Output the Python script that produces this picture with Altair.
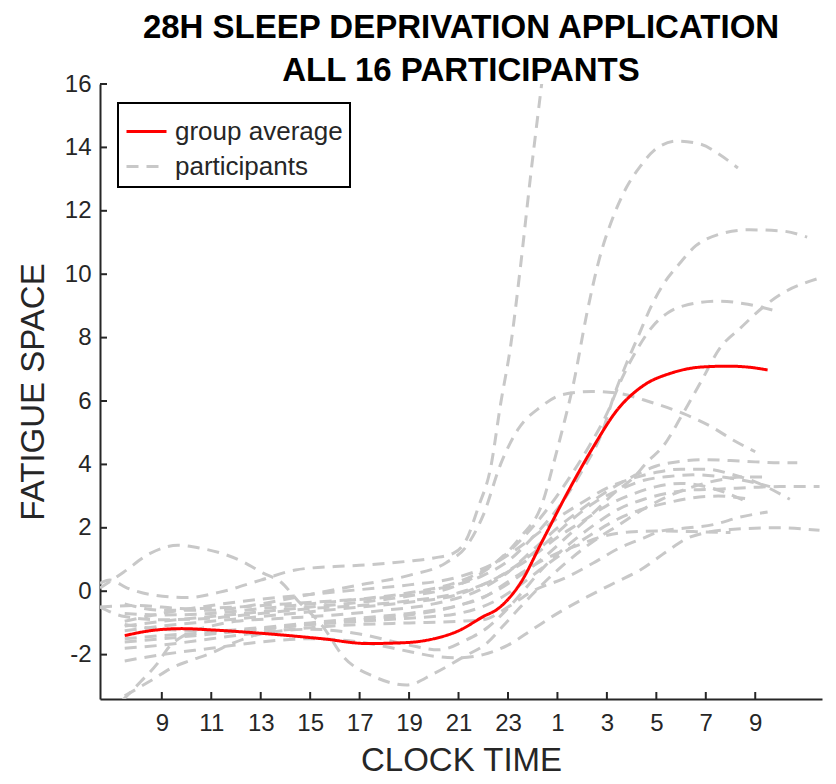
import altair as alt
import pandas as pd

# ---- data (clock time as continuous hours; values > 24 are next day) ----
avg_t = [7.5, 8.5, 9.8, 11, 12.9, 15.5, 17.3, 18.9, 20, 21, 22, 22.6, 23.5, 24.4, 25.4, 26.45, 27.4, 28.5, 29.6, 30.8, 31.9, 32.7, 33.5]
avg_v = [-1.4, -1.25, -1.18, -1.22, -1.32, -1.5, -1.65, -1.62, -1.5, -1.25, -0.8, -0.55, 0.25, 1.6, 3.1, 4.55, 5.7, 6.5, 6.88, 7.07, 7.1, 7.07, 6.98]

p01_t = [6.5, 6.9, 7.6, 8.5, 10, 11.5, 13, 14.4, 16, 17.3, 19, 20, 20.8, 21.3, 21.8, 22.3, 22.7, 23.1, 23.5, 23.9, 24.3, 24.6]
p01_v = [0.25, 0.35, 0.1, -0.1, -0.2, 0.0, 0.35, 0.67, 0.78, 0.83, 0.95, 1.05, 1.2, 1.6, 2.65, 3.9, 5.9, 7.7, 10.2, 13.0, 15.6, 17.5]
p02_t = [7.5, 9, 11, 13, 15, 17, 19, 21, 22.5, 23.5, 24.4, 24.85, 25.2, 25.65, 26.2, 26.7, 27.3, 27.8, 28.35, 28.9, 29.85, 30.8, 31.6, 32.3]
p02_v = [-1.1, -0.95, -0.8, -0.65, -0.5, -0.35, -0.15, 0.2, 0.9, 1.7, 2.8, 4.05, 5.1, 6.55, 8.8, 10.5, 11.9, 12.75, 13.4, 13.9, 14.2, 14.1, 13.75, 13.35]
p03_t = [6.5, 8, 10, 12, 14, 16, 18, 20, 22, 23, 24, 25, 26, 26.8, 27.3, 27.8, 28.3, 28.8, 29.3, 29.9, 30.6, 31.5, 32.7, 34.0, 35.1]
p03_v = [-0.5, -0.45, -0.55, -0.5, -0.4, -0.3, -0.2, 0.05, 0.5, 0.95, 1.7, 2.6, 3.8, 5.0, 6.2, 7.2, 8.1, 9.0, 9.7, 10.3, 10.9, 11.25, 11.4, 11.37, 11.17]
p04_t = [7.5, 9, 11, 13, 15, 17, 19, 21, 22.5, 23.5, 24.5, 25.5, 26.3, 27, 27.6, 28.2, 28.9, 29.5, 30.1, 31.5, 32.7, 33.7]
p04_v = [-0.7, -0.75, -0.7, -0.55, -0.4, -0.25, -0.05, 0.3, 0.9, 1.6, 2.5, 3.6, 4.6, 5.6, 6.7, 7.6, 8.4, 8.8, 9.0, 9.15, 9.05, 8.87]
p05_t = [7.5, 9, 11, 13, 15, 17, 19, 21, 22.5, 23.5, 24.5, 25.5, 26.5, 27.3, 28.1, 28.6, 29.3, 30.0, 30.8, 31.6, 32.4, 33.3, 34.1, 35.1, 35.7]
p05_v = [-1.6, -1.5, -1.35, -1.2, -1.05, -0.9, -0.75, -0.45, 0.0, 0.5, 1.1, 1.8, 2.5, 3.1, 3.6, 4.05, 4.6, 5.5, 6.6, 7.7, 8.3, 8.95, 9.4, 9.75, 9.9]
p06_t = [7.5, 9, 11, 13, 15, 17, 19, 20.5, 21.3, 22.0, 22.7, 23.4, 24.3, 25.2, 26.4, 27.4, 28.75, 30.1, 31.2, 32.1, 33.0]
p06_v = [-0.4, -0.6, -0.6, -0.4, -0.1, 0.2, 0.5, 0.9, 1.4, 2.4, 4.0, 5.1, 5.8, 6.2, 6.3, 6.25, 5.97, 5.6, 5.2, 4.77, 4.4]
p07_t = [7.4, 8.15, 8.8, 9.3, 10, 11, 12, 14, 16, 18, 20, 22, 23, 24, 25, 26, 27, 28, 29, 30, 31, 32, 33, 34, 34.7]
p07_v = [-3.45, -2.85, -2.3, -1.75, -1.35, -1.1, -0.95, -0.85, -0.75, -0.6, -0.4, 0.1, 0.6, 1.3, 2.0, 2.6, 3.15, 3.6, 3.95, 4.1, 4.15, 4.12, 4.08, 4.05, 4.05]
p08_t = [7.5, 9, 11, 13, 15, 17, 19, 21, 22.5, 24, 25, 26, 27, 28, 29, 30, 31, 32, 33, 34.4]
p08_v = [-0.95, -0.7, -0.45, -0.25, -0.1, 0.05, 0.2, 0.45, 0.9, 1.7, 2.3, 2.8, 3.25, 3.55, 3.75, 3.85, 3.85, 3.7, 3.45, 2.9]
p09_t = [7.5, 8.6, 9.45, 10.1, 11, 11.9, 13, 15, 17, 19, 20.2, 21.3, 22.2, 22.8, 23.5, 24.5, 25.5, 26.5, 27.5, 28.5, 29.5, 30.5, 31.5, 33, 34, 35.6]
p09_v = [-3.3, -2.8, -2.4, -2.2, -1.95, -1.63, -1.35, -1.2, -1.35, -1.7, -1.85, -1.54, -1.13, -0.7, -0.1, 0.8, 1.5, 2.1, 2.6, 2.9, 3.1, 3.2, 3.22, 3.28, 3.3, 3.3]
p10_t = [7.5, 9, 11, 13, 15, 17, 19, 21, 22.5, 24, 25, 26, 27, 28, 29, 30, 31, 32, 32.7]
p10_v = [-1.25, -1.1, -0.95, -0.8, -0.65, -0.5, -0.35, -0.1, 0.4, 1.1, 1.7, 2.2, 2.7, 3.05, 3.3, 3.4, 3.3, 3.05, 2.8]
p11_t = [7.5, 9, 11, 13, 15, 17, 19, 20, 21, 22, 23, 24, 25, 26.2, 27.3, 28.35, 29.4, 30.2, 31, 32, 33.9, 35.6]
p11_v = [-2.2, -2.0, -1.8, -1.6, -1.5, -1.6, -1.9, -2.05, -2.1, -2.0, -1.7, -1.2, -0.7, -0.18, 0.26, 0.67, 1.24, 1.65, 1.85, 1.95, 2.0, 1.92]
p12_t = [7.5, 9, 11, 13, 15, 17, 19, 21, 22, 23, 24, 25.4, 26.45, 27.5, 28.5, 29.2, 30.3, 31.3, 32.4, 33.5]
p12_v = [-1.8, -1.7, -1.5, -1.3, -1.15, -1.05, -1.0, -0.95, -0.9, -0.5, 0.0, 0.45, 0.89, 1.36, 1.68, 1.9, 2.0, 2.1, 2.34, 2.5]
p13_t = [7.5, 9, 11, 13, 15, 17, 19, 21, 22, 23, 24, 25, 26, 26.7, 27.9, 29, 30.5, 32]
p13_v = [-1.05, -1.2, -1.25, -1.15, -1.0, -0.85, -0.7, -0.45, -0.2, 0.3, 0.8, 1.2, 1.5, 1.7, 1.87, 1.9, 1.88, 1.85]
p14_t = [6.5, 7.45, 8.55, 9.65, 10.6, 11.4, 12.3, 13.1, 13.8, 14.5, 15.5, 16.35, 17.6, 18.9, 20, 21.2, 22.2, 22.8, 23.5, 24.5, 25.5, 26.5, 27.5, 28.5, 29.5, 30.5, 31.5, 32.5, 33.3]
p14_v = [0.1, 0.6, 1.2, 1.45, 1.35, 1.2, 0.92, 0.57, 0.3, -0.3, -1.1, -2.07, -2.7, -2.96, -2.6, -2.07, -1.6, -1.1, -0.5, 0.3, 1.0, 1.6, 2.1, 2.6, 3.0, 3.3, 3.5, 3.6, 3.6]
p15_t = [6.5, 7.5, 9, 11, 13, 15, 17, 19, 21, 22.5, 23.5, 24.5, 25.5, 26.5, 27.5, 28.5, 29.5, 30.5, 31.5, 32.5, 33.6]
p15_v = [-0.5, -0.8, -0.9, -0.85, -0.7, -0.55, -0.45, -0.3, -0.05, 0.4, 0.9, 1.5, 2.2, 2.8, 3.2, 3.5, 3.62, 3.67, 3.62, 3.5, 3.3]
p16_t = [7.5, 9, 11, 13, 15, 17, 19, 21, 22.5, 23.5, 24.5, 25.5, 26.5, 27.5, 28.5, 29.5, 30.5, 31.5, 32.8]
p16_v = [-1.5, -1.4, -1.3, -1.2, -1.05, -0.95, -0.85, -0.7, -0.3, 0.2, 0.8, 1.35, 1.85, 2.3, 2.6, 2.8, 2.95, 3.0, 2.9]

x_ticks = [9, 11, 13, 15, 17, 19, 21, 23, 25, 27, 29, 31, 33]
y_ticks = [-2, 0, 2, 4, 6, 8, 10, 12, 14, 16]
series_names = ["group average", "participants"]

participants = [
    (p01_t, p01_v), (p02_t, p02_v), (p03_t, p03_v), (p04_t, p04_v),
    (p05_t, p05_v), (p06_t, p06_v), (p07_t, p07_v), (p08_t, p08_v),
    (p09_t, p09_v), (p10_t, p10_v), (p11_t, p11_v), (p12_t, p12_v),
    (p13_t, p13_v), (p14_t, p14_v), (p15_t, p15_v), (p16_t, p16_v),
]

rows = []
for i, (ts, vs) in enumerate(participants):
    for k, (t, v) in enumerate(zip(ts, vs)):
        rows.append({"pid": i + 1, "order": k, "t": t, "v": v, "series": "participants"})
part_df = pd.DataFrame(rows)
avg_df = pd.DataFrame({"t": avg_t, "v": avg_v, "order": list(range(len(avg_t))), "series": "group average"})
xt_df = pd.DataFrame({"t": x_ticks})
yt_df = pd.DataFrame({"v": y_ticks})

W, H = 722, 615
INK = "#262626"
FONT = "Liberation Sans"

xscale = alt.Scale(domain=[6.5, 35.7], nice=False, zero=False)
yscale = alt.Scale(domain=[-3.4, 16], nice=False, zero=False)
color_scale = alt.Scale(domain=series_names, range=["#ff0000", "#c8c8c8"])
dash_scale = alt.Scale(domain=series_names, range=[[1, 0], [12, 8]])

x_axis = alt.Axis(values=x_ticks, title="CLOCK TIME",
                  labelExpr="datum.value > 24 ? datum.value - 24 : datum.value",
                  ticks=False, tickSize=0, grid=False, labelPadding=12, titlePadding=9)
y_axis = alt.Axis(values=y_ticks, title="FATIGUE SPACE", ticks=False, tickSize=0,
                  labelExpr="'' + datum.value",
                  grid=False, labelPadding=9, titlePadding=14)

legend = alt.Legend(title=None, orient="none", legendX=18, legendY=19, labelLimit=0)

parts = alt.Chart(part_df).mark_line(strokeWidth=3, clip=True, interpolate="monotone").encode(
    x=alt.X("t:Q", scale=xscale, axis=x_axis),
    y=alt.Y("v:Q", scale=yscale, axis=y_axis),
    detail="pid:N",
    order="order:Q",
    color=alt.Color("series:N", scale=color_scale, legend=legend),
    strokeDash=alt.StrokeDash("series:N", scale=dash_scale, legend=legend),
)

avg = alt.Chart(avg_df).mark_line(strokeWidth=3, clip=True, interpolate="monotone").encode(
    x=alt.X("t:Q", scale=xscale, axis=x_axis),
    y=alt.Y("v:Q", scale=yscale, axis=y_axis),
    order="order:Q",
    color=alt.Color("series:N", scale=color_scale, legend=legend),
    strokeDash=alt.StrokeDash("series:N", scale=dash_scale, legend=legend),
)

xticks = alt.Chart(xt_df).mark_rule(color=INK, strokeWidth=2).encode(
    x=alt.X("t:Q", scale=xscale), y=alt.value(H), y2=alt.value(H - 7))
yticks = alt.Chart(yt_df).mark_rule(color=INK, strokeWidth=2).encode(
    y=alt.Y("v:Q", scale=yscale), x=alt.value(0), x2=alt.value(7))

chart = alt.layer(parts, avg, xticks, yticks).properties(
    width=W, height=H,
    autosize=alt.AutoSizeParams(type="none"),
    padding={"left": 92, "top": 76, "right": 6, "bottom": 77},
    title=alt.TitleParams(
        text=["28H SLEEP DEPRIVATION APPLICATION", "ALL 16 PARTICIPANTS"],
        font=FONT, fontSize=33, fontWeight="bold", color="#000000",
        anchor="middle", lineHeight=43, offset=0, dy=16),
).configure_view(stroke=None).configure_axis(
    domainColor=INK, domainWidth=2, labelColor=INK, titleColor=INK,
    labelFont=FONT, titleFont=FONT, labelFontSize=24, titleFontSize=33,
    titleFontWeight="normal",
).configure_legend(
    symbolType="stroke", symbolSize=1600, symbolStrokeWidth=3,
    labelFont=FONT, labelFontSize=26, labelColor=INK, labelOffset=7,
    padding=7, strokeColor="#000000", strokeWidth=2, fillColor="#ffffff",
    rowPadding=-2,
)

chart.save("out.html", embed_options={"renderer": "svg", "actions": False})
